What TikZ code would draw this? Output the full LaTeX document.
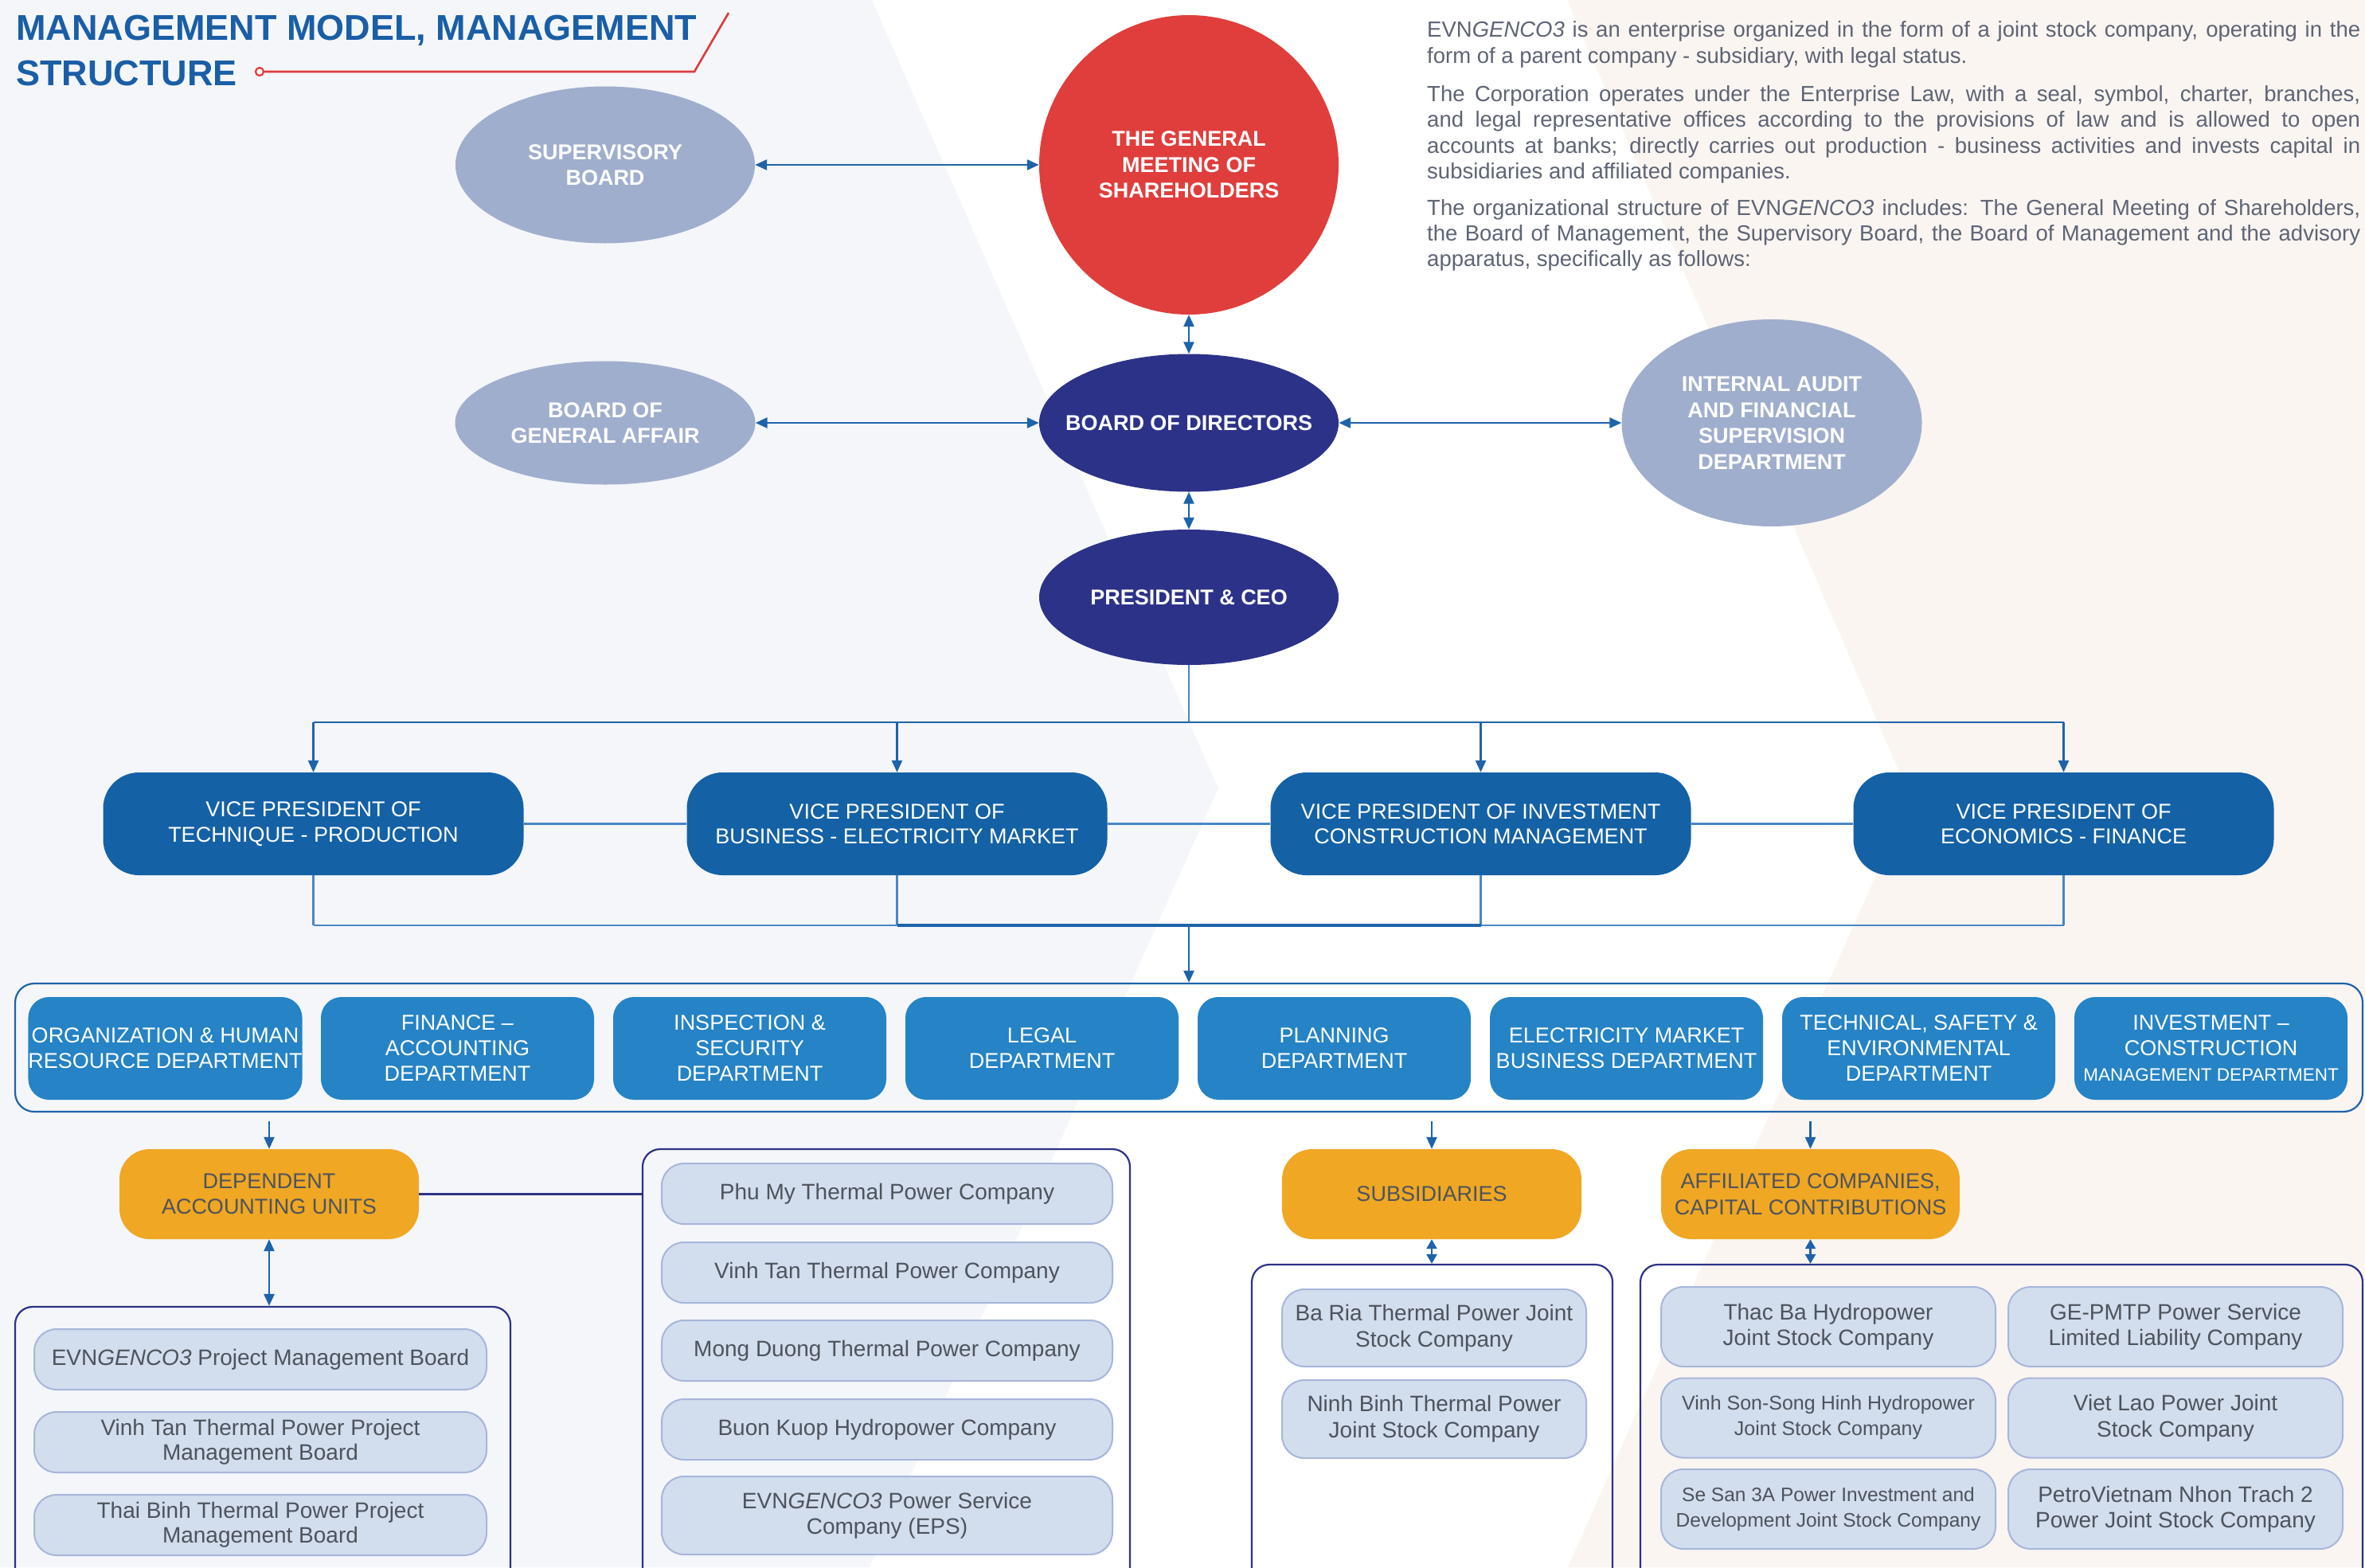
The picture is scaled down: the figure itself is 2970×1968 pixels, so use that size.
\documentclass[tikz,border=0pt]{standalone}
\usepackage{fontspec}
\setmainfont{Liberation Sans}
\usetikzlibrary{arrows.meta,shapes.geometric,calc}

\definecolor{bggrey}{HTML}{F4F6FA}
\definecolor{peach}{HTML}{FAF5F1}
\definecolor{titleblue}{HTML}{1A5EA6}
\definecolor{titlered}{HTML}{E03A3C}
\definecolor{gmred}{HTML}{DF3E3C}
\definecolor{navy}{HTML}{2C3288}
\definecolor{lavender}{HTML}{A0AECD}
\definecolor{vpblue}{HTML}{1461A6}
\definecolor{deptblue}{HTML}{2583C6}
\definecolor{amber}{HTML}{EFA724}
\definecolor{itemfill}{HTML}{D2DDEE}
\definecolor{itemline}{HTML}{A7B6DA}
\definecolor{linkblue}{HTML}{1E63AA}
\definecolor{lightlink}{HTML}{4A86C5}
\definecolor{labelgrey}{HTML}{4E535C}
\definecolor{bodygrey}{HTML}{5D6475}

\tikzset{
  oval/.style={ellipse, inner sep=0pt},
  ovaltext/.style={inner sep=0pt, text=white, align=center,
    font=\fontsize{27}{32.5}\selectfont\bfseries},
  vpbox/.style={rectangle, rounded corners=45pt, fill=vpblue, inner sep=0pt,
    minimum width=528pt, minimum height=129pt, text=white, align=center,
    font=\fontsize{27}{31.5}\selectfont},
  deptbox/.style={rectangle, rounded corners=26pt, fill=deptblue, inner sep=0pt,
    minimum width=343pt, minimum height=129pt, text=white, align=center,
    font=\fontsize{27}{32}\selectfont},
  unitbox/.style={rectangle, rounded corners=38pt, fill=amber, inner sep=0pt,
    minimum width=376pt, minimum height=113pt, text=labelgrey, align=center,
    font=\fontsize{27}{32.5}\selectfont},
  group/.style={rectangle, rounded corners=22pt, draw=navy, line width=2.2pt,
    inner sep=0pt},
  itembox/.style={rectangle, rounded corners=28pt, fill=itemfill, draw=itemline,
    line width=2pt, inner sep=0pt, text=labelgrey, align=center,
    font=\fontsize{28}{31}\selectfont},
  link/.style={draw=linkblue, line width=2.6pt},
  softlink/.style={draw=lightlink, line width=2.4pt},
  arr/.style={link, -{Triangle[length=15pt,width=13pt]}},
  darr/.style={link, {Triangle[length=15pt,width=13pt]}-{Triangle[length=15pt,width=13pt]}},
  shortdarr/.style={link, {Triangle[length=12pt,width=13pt]}-{Triangle[length=12pt,width=13pt]}},
  bodyline/.style={anchor=base west, inner sep=0pt, text=bodygrey,
    font=\fontsize{27.5}{32}\selectfont},
  titleline/.style={anchor=base west, inner sep=0pt, text=titleblue,
    font=\fontsize{45}{57}\selectfont\bfseries},
}

\newcommand{\justline}[1]{\makebox[1172pt][s]{#1}}

\begin{document}
\begin{tikzpicture}[x=1pt,y=-1pt]
\useasboundingbox (0,0) rectangle (2970,1968);
\clip (0,0) rectangle (2970,1968);

% background panels
\fill[bggrey] (0,0) rectangle (2970,1968);
\fill[white] (1095,0) -- (1530,990) -- (1092,1968) -- (2970,1968) -- (2970,0) -- cycle;
\fill[peach] (1968,0) -- (2399,1002) -- (1969,1968) -- (2970,1968) -- (2970,0) -- cycle;

% heading
\node[titleline] (t1) at (20,50) {MANAGEMENT MODEL, MANAGEMENT};
\node[titleline] (t2) at (20,107) {STRUCTURE};
\node[circle, draw=titlered, fill=white, line width=2.2pt, minimum size=10pt, inner sep=0pt] (dot) at (326,90) {};
\coordinate (bend) at (872,90);
\coordinate (tip) at (915,16);
\draw[titlered, line width=2.6pt] (dot.east) -- (bend) -- (tip);

% introduction
\node[bodyline] (p1a) at (1792,46) {\justline{EVN\textit{GENCO3} is an enterprise organized in the form of a joint stock company, operating in the}};
\node[bodyline] (p1b) at (1792,79) {form of a parent company - subsidiary, with legal status.};
\node[bodyline] (p2a) at (1792,127) {\justline{The Corporation operates under the Enterprise Law, with a seal, symbol, charter, branches,}};
\node[bodyline] (p2b) at (1792,159) {\justline{and legal representative offices according to the provisions of law and is allowed to open}};
\node[bodyline] (p2c) at (1792,192) {\justline{accounts at banks; directly carries out production - business activities and invests capital in}};
\node[bodyline] (p2d) at (1792,224) {subsidiaries and affiliated companies.};
\node[bodyline] (p3a) at (1792,270) {\justline{The organizational structure of EVN\textit{GENCO3} includes: The General Meeting of Shareholders,}};
\node[bodyline] (p3b) at (1792,302) {\justline{the Board of Management, the Supervisory Board, the Board of Management and the advisory}};
\node[bodyline] (p3c) at (1792,334) {apparatus, specifically as follows:};

% governing bodies
\node[oval, fill=gmred, minimum width=376pt, minimum height=376pt,
      label={[ovaltext]center:THE GENERAL\\MEETING OF\\SHAREHOLDERS}] (gm) at (1493,207) {};
\node[oval, fill=lavender, minimum width=376pt, minimum height=197pt,
      label={[ovaltext]center:SUPERVISORY\\BOARD}] (sup) at (760,207) {};
\node[oval, fill=navy, minimum width=376pt, minimum height=173pt,
      label={[ovaltext]center:BOARD OF DIRECTORS}] (bod) at (1493,531) {};
\node[oval, fill=lavender, minimum width=377pt, minimum height=155pt,
      label={[ovaltext]center:BOARD OF\\GENERAL AFFAIR}] (bga) at (760,531) {};
\node[oval, fill=lavender, minimum width=377pt, minimum height=260pt,
      label={[ovaltext]center:INTERNAL AUDIT\\AND FINANCIAL\\SUPERVISION\\DEPARTMENT}] (ia) at (2225,531) {};
\node[oval, fill=navy, minimum width=376pt, minimum height=170pt,
      label={[ovaltext]center:PRESIDENT \& CEO}] (ceo) at (1493,750) {};

\draw[darr] (sup.east) -- (gm.west);
\draw[darr] (gm.south) -- (bod.north);
\draw[darr] (bga.east) -- (bod.west);
\draw[darr] (ia.west) -- (bod.east);
\draw[darr] (bod.south) -- (ceo.north);

% vice presidents
\node[vpbox] (vp1) at (393.5,1034.5) {VICE PRESIDENT OF\\TECHNIQUE - PRODUCTION};
\node[vpbox] (vp2) at (1126.5,1034.5) {VICE PRESIDENT OF\\BUSINESS - ELECTRICITY MARKET};
\node[vpbox] (vp3) at (1859.5,1034.5) {VICE PRESIDENT OF INVESTMENT\\CONSTRUCTION MANAGEMENT};
\node[vpbox] (vp4) at (2591.5,1034.5) {VICE PRESIDENT OF\\ECONOMICS - FINANCE};

\coordinate (topbus) at (1493,907);
\draw[softlink] (ceo.south) -- (topbus);
\draw[link] (vp1.north |- topbus) -- (vp4.north |- topbus);
\foreach \v in {vp1,vp2,vp3,vp4}
  \draw[arr] (\v.north |- topbus) -- (\v.north);

\draw[softlink] (vp1.east) -- (vp2.west);
\draw[softlink] (vp2.east) -- (vp3.west);
\draw[softlink] (vp3.east) -- (vp4.west);

\coordinate (botbus) at (1493,1162);
\foreach \v in {vp1,vp2,vp3,vp4}
  \draw[softlink] (\v.south) -- (\v.south |- botbus);
\draw[softlink] (vp1.south |- botbus) -- (vp4.south |- botbus);
\draw[link, line width=3.4pt] (vp2.south |- botbus) -- (vp3.south |- botbus);

% departments
\node[rectangle, rounded corners=24pt, draw=linkblue, line width=2.2pt, inner sep=0pt,
      minimum width=2948pt, minimum height=161pt] (depts) at (1493,1315.5) {};
\draw[arr] (botbus) -- (depts.north);

\node[deptbox] (d1) at (207.5,1316.5) {ORGANIZATION \& HUMAN\\RESOURCE DEPARTMENT};
\node[deptbox] (d2) at (574.5,1316.5) {FINANCE –\\ACCOUNTING\\DEPARTMENT};
\node[deptbox] (d3) at (941.5,1316.5) {INSPECTION \&\\SECURITY\\DEPARTMENT};
\node[deptbox] (d4) at (1308.5,1316.5) {LEGAL\\DEPARTMENT};
\node[deptbox] (d5) at (1675.5,1316.5) {PLANNING\\DEPARTMENT};
\node[deptbox] (d6) at (2042.5,1316.5) {ELECTRICITY MARKET\\BUSINESS DEPARTMENT};
\node[deptbox] (d7) at (2409.5,1316.5) {TECHNICAL, SAFETY \&\\ENVIRONMENTAL\\DEPARTMENT};
\node[deptbox] (d8) at (2776.5,1316.5) {INVESTMENT –\\CONSTRUCTION\\{\fontsize{22.5}{32}\selectfont MANAGEMENT DEPARTMENT}};

% unit categories
\node[unitbox] (dau) at (338,1499.5) {DEPENDENT\\ACCOUNTING UNITS};
\node[unitbox] (sub) at (1798,1499.5) {SUBSIDIARIES};
\node[unitbox, minimum width=375pt] (aff) at (2273.5,1499.5) {AFFILIATED COMPANIES,\\CAPITAL CONTRIBUTIONS};

\foreach \u in {dau,sub,aff}
  \draw[arr, shorten <=11pt] (\u.north |- depts.south) -- (\u.north);

% unit groups
\node[group, minimum width=622pt, minimum height=369pt] (gleft) at (330,1825.5) {};
\node[group, minimum width=612pt, minimum height=567pt] (gright) at (1113,1726.5) {};
\node[group, minimum width=453pt, minimum height=422pt] (gsub) at (1798.5,1799) {};
\node[group, minimum width=907pt, minimum height=422pt] (gaff) at (2513.5,1799) {};

\draw[darr] (dau.south) -- (dau.south |- gleft.north);
\draw[navy, line width=2.4pt] (dau.east) -- (dau.east -| gright.west);
\draw[shortdarr] (sub.south) -- (sub.south |- gsub.north);
\draw[shortdarr] (aff.south) -- (aff.south |- gaff.north);

% dependent accounting units
\node[itembox, minimum width=568pt, minimum height=76pt] (l1) at (327,1707) {EVN\textit{GENCO3} Project Management Board};
\node[itembox, minimum width=568pt, minimum height=76pt] (l2) at (327,1811) {Vinh Tan Thermal Power Project\\Management Board};
\node[itembox, minimum width=568pt, minimum height=76pt] (l3) at (327,1915) {Thai Binh Thermal Power Project\\Management Board};

\node[itembox, minimum width=566pt, minimum height=76pt] (r1) at (1114,1499) {Phu My Thermal Power Company};
\node[itembox, minimum width=566pt, minimum height=76pt] (r2) at (1114,1598) {Vinh Tan Thermal Power Company};
\node[itembox, minimum width=566pt, minimum height=76pt] (r3) at (1114,1696) {Mong Duong Thermal Power Company};
\node[itembox, minimum width=566pt, minimum height=76pt] (r4) at (1114,1795) {Buon Kuop Hydropower Company};
\node[itembox, minimum width=566pt, minimum height=98pt, font=\fontsize{28}{32}\selectfont] (r5) at (1114,1903) {EVN\textit{GENCO3} Power Service\\Company (EPS)};

% subsidiaries
\node[itembox, minimum width=382pt, minimum height=97pt, font=\fontsize{28}{33}\selectfont] (s1) at (1801,1667.5) {Ba Ria Thermal Power Joint\\Stock Company};
\node[itembox, minimum width=382pt, minimum height=98pt, font=\fontsize{28}{33}\selectfont] (s2) at (1801,1782) {Ninh Binh Thermal Power\\Joint Stock Company};

% affiliated companies
\tikzset{affbox/.style={itembox, minimum width=420pt, minimum height=100pt, font=\fontsize{28}{32.5}\selectfont}}
\node[affbox] (a1) at (2296,1666) {Thac Ba Hydropower\\Joint Stock Company};
\node[affbox] (a2) at (2732,1666) {GE-PMTP Power Service\\Limited Liability Company};
\node[affbox, font=\fontsize{25}{32}\selectfont] (a3) at (2296,1780.5) {Vinh Son-Song Hinh Hydropower\\Joint Stock Company};
\node[affbox] (a4) at (2732,1780.5) {Viet Lao Power Joint\\Stock Company};
\node[affbox, font=\fontsize{24.5}{32}\selectfont] (a5) at (2296,1895) {Se San 3A Power Investment and\\Development Joint Stock Company};
\node[affbox] (a6) at (2732,1895) {PetroVietnam Nhon Trach 2\\Power Joint Stock Company};
\end{tikzpicture}
\end{document}
